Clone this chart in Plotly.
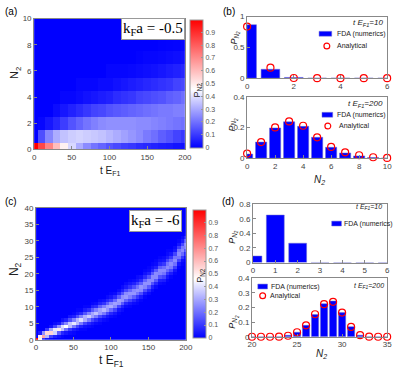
import plotly.graph_objects as go

W, H = 399, 373

# ---- panel (a): P(N2, t) heatmap, k_F a = -0.5 ----
a_t = [0, 10, 20, 30, 40, 50, 60, 70, 80, 90, 100, 110, 120, 130, 140, 150, 160, 170, 180, 190, 200]
a_n = [0, 1, 2, 3, 4, 5, 6, 7, 8, 9, 10]
a_n0 = [1.00, 0.85, 0.72, 0.60, 0.49, 0.39, 0.31, 0.25, 0.21, 0.18, 0.15, 0.13, 0.11, 0.10, 0.08, 0.07, 0.06, 0.05, 0.045, 0.035, 0.03]
a_n1 = [0.00, 0.14, 0.24, 0.31, 0.35, 0.37, 0.38, 0.37, 0.36, 0.35, 0.33, 0.31, 0.29, 0.27, 0.25, 0.22, 0.20, 0.17, 0.15, 0.12, 0.10]
a_n2 = [0.00, 0.01, 0.04, 0.07, 0.11, 0.15, 0.18, 0.21, 0.23, 0.25, 0.26, 0.26, 0.26, 0.26, 0.25, 0.25, 0.24, 0.23, 0.22, 0.21, 0.20]
a_n3 = [0, 0, 0, 0.02, 0.04, 0.06, 0.08, 0.10, 0.12, 0.13, 0.15, 0.16, 0.17, 0.18, 0.19, 0.20, 0.21, 0.22, 0.22, 0.23, 0.23]
a_n4 = [0, 0, 0, 0, 0.01, 0.01, 0.02, 0.03, 0.04, 0.05, 0.06, 0.08, 0.09, 0.10, 0.12, 0.13, 0.14, 0.15, 0.17, 0.18, 0.20]
a_n5 = [0, 0, 0, 0, 0, 0, 0.01, 0.01, 0.01, 0.02, 0.02, 0.03, 0.04, 0.05, 0.06, 0.07, 0.08, 0.09, 0.10, 0.12, 0.13]
a_n6 = [0, 0, 0, 0, 0, 0, 0, 0, 0, 0, 0.01, 0.01, 0.01, 0.015, 0.02, 0.025, 0.03, 0.04, 0.05, 0.06, 0.07]
a_n7 = [0, 0, 0, 0, 0, 0, 0, 0, 0, 0, 0, 0, 0, 0, 0.005, 0.01, 0.01, 0.015, 0.02, 0.025, 0.03]
a_n8 = [0, 0, 0, 0, 0, 0, 0, 0, 0, 0, 0, 0, 0, 0, 0, 0, 0, 0.004, 0.006, 0.008, 0.01]
a_n9 = [0, 0, 0, 0, 0, 0, 0, 0, 0, 0, 0, 0, 0, 0, 0, 0, 0, 0, 0, 0, 0.003]
a_n10 = [0] * 21

# ---- panel (c): P(N2, t) heatmap, k_F a = -6 (non-zero part of each time column) ----
c_t = list(range(0, 205, 5))
c_start = [0, 0, 0, 0, 0, 1, 1, 1, 2, 2, 2, 3, 3, 3, 4, 4, 5, 5, 6, 6, 7,
           7, 8, 9, 10, 10, 11, 11, 12, 13, 14, 15, 16, 17, 17, 18, 19, 20, 22, 23, 23]
c_prob = [
    [1.0],
    [0.45, 0.50, 0.05],
    [0.09, 0.65, 0.26],
    [0.03, 0.33, 0.54, 0.10],
    [0.01, 0.12, 0.55, 0.29, 0.03],
    [0.06, 0.38, 0.42, 0.12, 0.02],
    [0.03, 0.17, 0.50, 0.26, 0.04],
    [0.01, 0.07, 0.35, 0.40, 0.14, 0.03],
    [0.04, 0.20, 0.46, 0.24, 0.06],
    [0.02, 0.10, 0.34, 0.36, 0.14, 0.04],
    [0.01, 0.05, 0.22, 0.42, 0.23, 0.06, 0.01],
    [0.03, 0.12, 0.33, 0.33, 0.14, 0.04, 0.01],
    [0.01, 0.06, 0.22, 0.40, 0.23, 0.07, 0.01],
    [0.01, 0.03, 0.12, 0.31, 0.32, 0.15, 0.05, 0.01],
    [0.02, 0.07, 0.22, 0.37, 0.23, 0.08, 0.01],
    [0.01, 0.04, 0.13, 0.29, 0.30, 0.16, 0.06, 0.01],
    [0.02, 0.08, 0.22, 0.35, 0.23, 0.08, 0.02],
    [0.01, 0.04, 0.13, 0.28, 0.29, 0.17, 0.06, 0.02],
    [0.02, 0.08, 0.22, 0.33, 0.23, 0.09, 0.03],
    [0.01, 0.04, 0.13, 0.27, 0.29, 0.17, 0.07, 0.02],
    [0.02, 0.07, 0.19, 0.31, 0.25, 0.11, 0.04, 0.01],
    [0.01, 0.04, 0.12, 0.25, 0.29, 0.19, 0.08, 0.02],
    [0.01, 0.04, 0.13, 0.27, 0.29, 0.17, 0.07, 0.02],
    [0.02, 0.06, 0.16, 0.27, 0.26, 0.15, 0.06, 0.02],
    [0.02, 0.07, 0.18, 0.28, 0.25, 0.13, 0.05, 0.02],
    [0.01, 0.04, 0.12, 0.23, 0.27, 0.19, 0.09, 0.04, 0.01],
    [0.02, 0.07, 0.17, 0.27, 0.25, 0.14, 0.06, 0.02],
    [0.01, 0.03, 0.10, 0.21, 0.27, 0.21, 0.11, 0.04, 0.02],
    [0.01, 0.05, 0.14, 0.25, 0.27, 0.17, 0.08, 0.03],
    [0.01, 0.05, 0.14, 0.24, 0.26, 0.18, 0.08, 0.03, 0.01],
    [0.02, 0.07, 0.16, 0.26, 0.25, 0.15, 0.06, 0.02, 0.01],
    [0.02, 0.06, 0.15, 0.25, 0.25, 0.16, 0.07, 0.03, 0.01],
    [0.02, 0.07, 0.16, 0.25, 0.25, 0.16, 0.06, 0.02, 0.01],
    [0.02, 0.06, 0.15, 0.24, 0.25, 0.17, 0.07, 0.03, 0.01],
    [0.01, 0.05, 0.12, 0.21, 0.25, 0.20, 0.10, 0.04, 0.02],
    [0.01, 0.04, 0.10, 0.19, 0.25, 0.21, 0.12, 0.05, 0.02, 0.01],
    [0.01, 0.05, 0.13, 0.22, 0.25, 0.19, 0.10, 0.04, 0.01],
    [0.01, 0.04, 0.11, 0.20, 0.25, 0.21, 0.12, 0.04, 0.02],
    [0.01, 0.04, 0.12, 0.21, 0.25, 0.21, 0.11, 0.04, 0.01],
    [0.01, 0.03, 0.10, 0.19, 0.25, 0.22, 0.13, 0.05, 0.02],
    [0.001, 0.01, 0.031, 0.078, 0.152, 0.226, 0.244, 0.165, 0.069, 0.011, 0.001],
]
c_n = list(range(41))

# ---- panel (b): distributions for k_F a = -0.5 ----
b10_n = [0, 1, 2, 3, 4, 5, 6]
b10_fda = [0.87, 0.145, 0.012, 0, 0, 0, 0]
b10_ana = [0.84, 0.17, 0.003, 0, 0, 0, 0]
b200_n = [0, 1, 2, 3, 4, 5, 6, 7, 8, 9, 10]
b200_fda = [0.027, 0.105, 0.197, 0.237, 0.207, 0.136, 0.071, 0.034, 0.015, 0.004, 0.001]
b200_ana = [0.03, 0.105, 0.2, 0.239, 0.211, 0.136, 0.073, 0.038, 0.019, 0.006, 0.002]

# ---- panel (d): distributions for k_F a = -6 ----
d10_n = [0, 1, 2, 3, 4, 5, 6]
d10_fda = [0.09, 0.65, 0.265, 0.002, 0, 0, 0]
d200_n = list(range(20, 36))
d200_fda = [0, 0, 0, 0.001, 0.01, 0.031, 0.078, 0.152, 0.226, 0.244, 0.165, 0.069, 0.011, 0.001, 0, 0]
d200_ana = [0, 0, 0, 0.001, 0.007, 0.031, 0.078, 0.154, 0.223, 0.239, 0.165, 0.067, 0.011, 0.001, 0, 0]

a_z = [a_n0, a_n1, a_n2, a_n3, a_n4, a_n5, a_n6, a_n7, a_n8, a_n9, a_n10]
c_z = [[0.0] * len(c_t) for _ in c_n]
for j, (s, col) in enumerate(zip(c_start, c_prob)):
    for k, p in enumerate(col):
        c_z[s + k][j] = p

BLUE = "#0000ff"
RED = "#ff0000"
SANS = "Liberation Sans, Arial"
TICKFONT = dict(family=SANS, size=8, color="#444")
SCALE = [[0, "#0000ff"], [0.46, "#ffffff"], [1, "#ff0000"]]


def px_x(a, b):
    return [a / W, b / W]


def px_y(top, bottom):
    return [1 - bottom / H, 1 - top / H]


def axis(dom, anchor, rng, tickvals, **kw):
    d = dict(domain=dom, anchor=anchor, range=rng, tickvals=tickvals,
             showline=True, mirror=True, linecolor="#888", linewidth=1,
             ticks="inside", ticklen=3, tickcolor="#888", tickfont=TICKFONT,
             showgrid=False, zeroline=False)
    d.update(kw)
    return d


fig = go.Figure()

fig.add_trace(go.Heatmap(x=a_t, y=a_n, z=a_z, coloraxis="coloraxis", xaxis="x", yaxis="y"))
fig.add_trace(go.Heatmap(x=c_t, y=c_n, z=c_z, coloraxis="coloraxis2", xaxis="x4", yaxis="y4"))

bar_kw = dict(marker=dict(color=BLUE, line=dict(color="#7070d0", width=0.5)), width=0.8,
              showlegend=False)
circ_kw = dict(mode="markers", cliponaxis=False, showlegend=False,
               marker=dict(symbol="circle-open", color=RED, size=7, line=dict(width=1.2, color=RED)))

fig.add_trace(go.Bar(x=b10_n, y=b10_fda, xaxis="x2", yaxis="y2", **bar_kw))
fig.add_trace(go.Scatter(x=b10_n, y=b10_ana, xaxis="x2", yaxis="y2", **circ_kw))
fig.add_trace(go.Bar(x=b200_n, y=b200_fda, xaxis="x3", yaxis="y3", **bar_kw))
fig.add_trace(go.Scatter(x=b200_n, y=b200_ana, xaxis="x3", yaxis="y3", **circ_kw))
fig.add_trace(go.Bar(x=d10_n, y=d10_fda, xaxis="x5", yaxis="y5", **bar_kw))
fig.add_trace(go.Bar(x=d200_n, y=d200_fda, xaxis="x6", yaxis="y6", **bar_kw))
fig.add_trace(go.Scatter(x=d200_n, y=d200_ana, xaxis="x6", yaxis="y6", **circ_kw))


def cbar(x0, top, bottom):
    return dict(x=x0 / W, xanchor="left", y=1 - (top + bottom) / 2 / H, yanchor="middle",
                len=(bottom - top) / H, lenmode="fraction", thickness=13, thicknessmode="pixels",
                outlinecolor="#999", outlinewidth=1, tickvals=[i / 10 for i in range(10)],
                ticktext=["0"] + [f"0.{i}" for i in range(1, 10)],
                ticks="inside", ticklen=2, tickcolor="#999",
                tickfont=dict(family=SANS, size=7, color="#555"),
                xpad=0, ypad=0)


fig.update_layout(
    width=W, height=H, margin=dict(l=0, r=0, t=0, b=0),
    paper_bgcolor="white", plot_bgcolor="white", barmode="overlay",
    coloraxis=dict(colorscale=SCALE, cmin=0, cmax=1, colorbar=cbar(191, 16, 147)),
    coloraxis2=dict(colorscale=SCALE, cmin=0, cmax=1, colorbar=cbar(194, 211, 342)),
    xaxis=axis(px_x(31, 186), "y", [0, 200], [0, 50, 100, 150, 200]),
    yaxis=axis(px_y(15, 149), "x", [0, 10], [0, 2, 4, 6, 8, 10]),
    xaxis2=axis(px_x(250, 394), "y2", [0, 6], [0, 2, 4, 6]),
    yaxis2=axis(px_y(13, 76), "x2", [0, 1], [0, 0.5, 1]),
    xaxis3=axis(px_x(250, 394), "y3", [0, 10], [0, 2, 4, 6, 8, 10]),
    yaxis3=axis(px_y(95, 158), "x3", [0, 0.4], [0, 0.2, 0.4]),
    xaxis4=axis(px_x(33, 187), "y4", [0, 200], [0, 50, 100, 150, 200]),
    yaxis4=axis(px_y(209, 344), "x4", [0, 40], [0, 5, 10, 15, 20, 25, 30, 35, 40]),
    xaxis5=axis(px_x(256, 394), "y5", [0, 6], [0, 1, 2, 3, 4, 5, 6]),
    yaxis5=axis(px_y(205, 265), "x5", [0, 0.8], [0, 0.2, 0.4, 0.6, 0.8]),
    xaxis6=axis(px_x(255, 394), "y6", [20, 35], [20, 25, 30, 35]),
    yaxis6=axis(px_y(281, 341), "x6", [0, 0.4], [0, 0.1, 0.2, 0.3, 0.4]),
)


def note(x, y, text, size=9, angle=0, italic=False, color="#222", family=SANS,
         xanchor="center", yanchor="middle", **kw):
    if italic:
        text = f"<i>{text}</i>"
    fig.add_annotation(x=x / W, y=1 - y / H, xref="paper", yref="paper", text=text,
                       showarrow=False, textangle=angle, xanchor=xanchor, yanchor=yanchor,
                       font=dict(size=size, color=color, family=family), **kw)


def legend_bar(x0, x1, yc, text_x):
    fig.add_shape(type="rect", xref="paper", yref="paper", x0=x0 / W, x1=x1 / W,
                  y0=1 - (yc + 2.5) / H, y1=1 - (yc - 2.5) / H,
                  fillcolor=BLUE, line=dict(color="#7070d0", width=0.5))
    note(text_x, yc, "FDA (numerics)", size=7, xanchor="left")


def legend_circle(xc, yc, text_x):
    fig.add_shape(type="circle", xref="paper", yref="paper", x0=(xc - 3) / W, x1=(xc + 3) / W,
                  y0=1 - (yc + 3) / H, y1=1 - (yc - 3) / H, line=dict(color=RED, width=1.2))
    note(text_x, yc, "Analytical", size=7, xanchor="left")


# panel labels
note(7, 8, "(a)", size=10, color="#000")
note(231, 8, "(b)", size=10, color="#000")
note(7, 202, "(c)", size=10, color="#000")
note(230, 202, "(d)", size=10, color="#000")

# heatmap axis titles
note(110, 171, "t E<sub>F1</sub>", size=10)
note(12, 71, "N<sub>2</sub>", size=11, angle=-90)
note(111, 366, "t E<sub>F1</sub>", size=12)
note(12, 272, "N<sub>2</sub>", size=12, angle=-90)
note(199, 88, "P<sub>N2</sub>", size=9, angle=-90)
note(202, 278, "P<sub>N2</sub>", size=9, angle=-90)

# interaction strength boxes
note(153, 26, "k<sub>F</sub>a = -0.5", size=15, family="Liberation Serif, Times New Roman",
     color="#000", bgcolor="white", bordercolor="#999", borderwidth=1, borderpad=1)
note(156, 222, "k<sub>F</sub>a = -6", size=15, family="Liberation Serif, Times New Roman",
     color="#000", bgcolor="white", bordercolor="#999", borderwidth=1, borderpad=1)

# bar panel axis labels
note(238, 34, "P<sub>N<sub>2</sub></sub>", size=9, angle=-90, italic=True)
note(235, 124, "P<sub>N<sub>2</sub></sub>", size=9, angle=-90, italic=True)
note(324, 180, "N<sub>2</sub>", size=10, italic=True)
note(236, 238, "P<sub>N<sub>2</sub></sub>", size=9, angle=-90, italic=True)
note(236, 325, "P<sub>N<sub>2</sub></sub>", size=9, angle=-90, italic=True)
note(327, 359, "N<sub>2</sub>", size=10, italic=True)
note(392, 19, "t E<sub>F1</sub>=10", size=8, italic=True, xanchor="right")
note(392, 102, "t E<sub>F1</sub>=200", size=8, italic=True, xanchor="right")
note(391, 208, "t E<sub>F1</sub>=10", size=7, italic=True, xanchor="right")
note(393, 289, "t E<sub>F1</sub>=200", size=7, italic=True, xanchor="right")

# legends
legend_bar(324, 337, 30.5, 340)
legend_circle(332, 43, 340)
legend_bar(327, 338, 113.5, 340)
legend_circle(333, 125, 342)
legend_bar(337, 347, 225, 348)
legend_bar(261, 271, 289.5, 272)
legend_circle(266, 299, 271)

fig.write_html("out.html", config={"displayModeBar": False},
               post_script="document.body.style.margin='0';")
